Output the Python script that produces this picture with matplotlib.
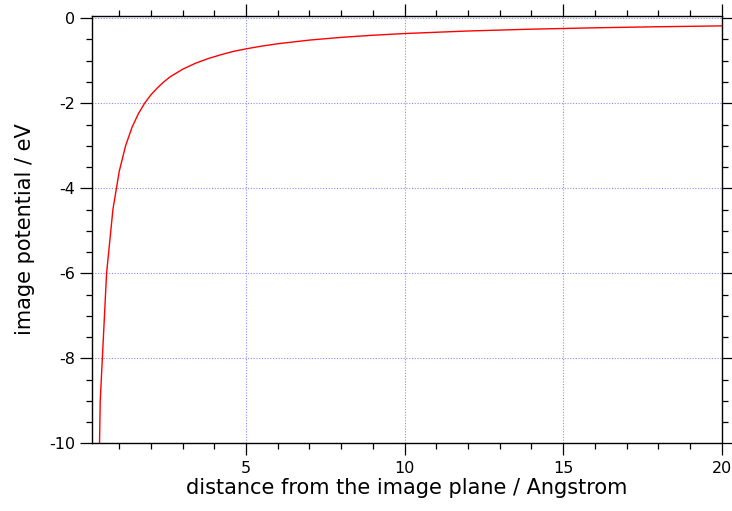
# Image potential near a metal surface vs. distance from the image plane

import matplotlib.pyplot as plt
from matplotlib.ticker import MultipleLocator

plt.rcParams['axes.unicode_minus'] = False

# distance from the image plane (Angstrom)
distance = [0.2, 0.4, 0.6, 0.8, 1.0, 1.2, 1.4, 1.6, 1.8, 2.0,
            2.2, 2.4, 2.6, 2.8, 3.0, 3.4, 3.8, 4.2, 4.6, 5.0,
            5.5, 6.0, 7.0, 8.0, 9.0, 10.0, 12.0, 14.0, 16.0, 18.0, 20.0]
# image potential (eV)
potential = [-18.0, -9.0, -6.0, -4.5, -3.6, -3.0, -2.57, -2.25, -2.0, -1.8,
             -1.64, -1.5, -1.38, -1.29, -1.2, -1.06, -0.95, -0.86, -0.78, -0.72,
             -0.655, -0.6, -0.514, -0.45, -0.4, -0.36, -0.3, -0.257, -0.225, -0.2, -0.18]

fig = plt.figure(figsize=(7.32, 5.11), dpi=100)
ax = fig.add_axes([0.1261, 0.1325, 0.8598, 0.8368])

ax.plot(distance, potential, color='red', linewidth=1.0)

ax.set_xlim(0.15, 20.0)
ax.set_ylim(-10.0, 0.06)

ax.xaxis.set_major_locator(MultipleLocator(5))
ax.xaxis.set_minor_locator(MultipleLocator(1))
ax.yaxis.set_major_locator(MultipleLocator(2))
ax.yaxis.set_minor_locator(MultipleLocator(0.5))

ax.tick_params(which='both', direction='out', top=True, right=True,
               labeltop=False, labelright=False, width=0.9, labelsize=11.5, pad=4)
ax.tick_params(which='major', length=8.5)
ax.tick_params(which='minor', length=4.5)

for s in ax.spines.values():
    s.set_linewidth(1.0)

ax.grid(True, which='major', color=(0.55, 0.55, 1.0), linestyle=(0, (1, 1.5)), linewidth=0.8)

ax.set_xlabel('distance from the image plane / Angstrom', fontsize=15, labelpad=2)
ax.set_ylabel('image potential / eV', fontsize=15, labelpad=10)

plt.savefig('out.png', dpi=100)
plt.close()
